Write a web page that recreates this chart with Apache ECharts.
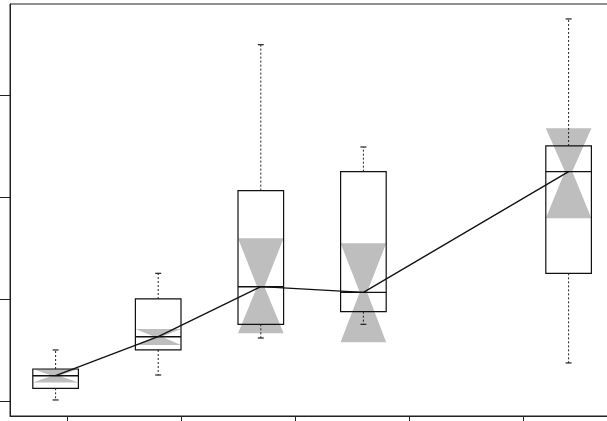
<!DOCTYPE html>
<html>
<head>
<meta charset="utf-8">
<script src="https://cdn.jsdelivr.net/npm/echarts@6/dist/echarts.min.js"></script>
<style>html,body{margin:0;padding:0;background:#fff;}#c{width:607px;height:421px;}</style>
</head>
<body>
<div id="c"></div>
<script>
// Box positions on the x axis and the five-number summaries
const positions   = [0.9, 1.8, 2.7, 3.6, 5.4];
const whiskerLow  = [0.015, 0.259, 0.621, 0.755, 0.377];
const lowerHinge  = [0.129, 0.504, 0.755, 0.879, 1.254];
const medians     = [0.252, 0.634, 1.123, 1.068, 2.249];
const upperHinge  = [0.318, 1.003, 2.063, 2.249, 2.500];
const whiskerHigh = [0.504, 1.254, 3.491, 2.490, 3.743];
const notchLow    = [0.186, 0.553, 0.667, 0.579, 1.793];
const notchHigh   = [0.318, 0.709, 1.597, 1.548, 2.673];
const xTicks = [1, 2, 3, 4, 5];
const yTicks = [0, 1, 2, 3];

const boxData = positions.map((p, i) => [p, whiskerLow[i], lowerHinge[i], medians[i], upperHinge[i], whiskerHigh[i], notchLow[i], notchHigh[i]]);
const medianLine = positions.map((p, i) => [p, medians[i]]);

const HALF = 0.2;
function renderBox(params, api) {
  const x = api.value(0);
  const yv = [1,2,3,4,5,6,7].map(k => api.value(k));
  const L = api.coord([x - HALF, yv[2]])[0];
  const R = api.coord([x + HALF, yv[2]])[0];
  const C = api.coord([x, yv[2]])[0];
  const py = v => api.coord([x, v])[1];
  const wl = py(yv[0]), q1 = py(yv[1]), md = py(yv[2]), q3 = py(yv[3]), wh = py(yv[4]), nl = py(yv[5]), nh = py(yv[6]);
  const waist = (R - L) * 0.08;
  const children = [
    { type: 'polygon', shape: { points: [[L, nh], [R, nh], [C + waist, md], [R, nl], [L, nl], [C - waist, md]] },
      style: { fill: '#bebebe', stroke: null } },
    { type: 'rect', shape: { x: L, y: q3, width: R - L, height: q1 - q3 },
      style: { fill: null, stroke: '#111', lineWidth: 1.2 } },
    { type: 'line', shape: { x1: L, y1: md, x2: R, y2: md }, style: { stroke: '#111', lineWidth: 1.4 } },
    { type: 'line', shape: { x1: C, y1: q3, x2: C, y2: wh }, style: { stroke: '#222', lineWidth: 1, lineDash: [2, 2] } },
    { type: 'line', shape: { x1: C, y1: q1, x2: C, y2: wl }, style: { stroke: '#222', lineWidth: 1, lineDash: [2, 2] } },
    { type: 'line', shape: { x1: C - 3, y1: wh, x2: C + 3, y2: wh }, style: { stroke: '#222', lineWidth: 1.2 } },
    { type: 'line', shape: { x1: C - 3, y1: wl, x2: C + 3, y2: wl }, style: { stroke: '#222', lineWidth: 1.2 } }
  ];
  return { type: 'group', children };
}

const chart = echarts.init(document.getElementById('c'), null, { renderer: 'canvas' });
chart.setOption({
  animation: false,
  backgroundColor: '#fff',
  grid: { left: 10, right: -1.5, top: 4, bottom: 5, containLabel: false, outerBoundsMode: 'none',
          show: true, borderColor: '#222', borderWidth: 1, backgroundColor: 'transparent' },
  xAxis: {
    type: 'value', min: 0.5, max: 5.75,
    axisLine: { show: true, onZero: false, lineStyle: { color: '#222', width: 1 } },
    axisTick: { show: true, customValues: xTicks, length: 5, lineStyle: { color: '#222' } },
    axisLabel: { show: false, customValues: xTicks },
    splitLine: { show: false }
  },
  yAxis: {
    type: 'value', min: -0.142, max: 3.889,
    axisLine: { show: true, onZero: false, lineStyle: { color: '#222', width: 1 } },
    axisTick: { show: true, customValues: yTicks, length: 10, lineStyle: { color: '#222' } },
    axisLabel: { show: false, customValues: yTicks },
    splitLine: { show: false }
  },
  series: [
    { type: 'custom', renderItem: renderBox, data: boxData, encode: { x: 0, y: [1,2,3,4,5,6,7] }, z: 2 },
    { type: 'line', data: medianLine, symbol: 'none', lineStyle: { color: '#111', width: 1.3 }, z: 3 }
  ]
});
</script>
</body>
</html>
